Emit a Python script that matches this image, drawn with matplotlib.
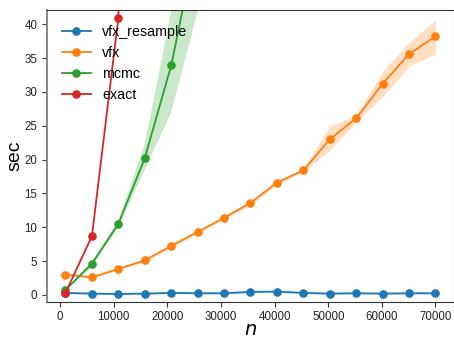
import matplotlib
matplotlib.use("Agg")
import matplotlib.pyplot as plt
import numpy as np

plt.rcParams['font.family'] = ['Liberation Sans', 'DejaVu Sans']

# sample sizes (15 points from 1000 to 70000)
n_vals = [1000, 5929, 10857, 15786, 20714, 25643, 30571, 35500,
          40429, 45357, 50286, 55214, 60143, 65071, 70000]

# mean run time (sec) and band bounds
vfx_resample = [0.3, 0.2, 0.15, 0.2, 0.3, 0.25, 0.25, 0.45, 0.5, 0.3, 0.2, 0.25, 0.2, 0.25, 0.25]
vfx_resample_lo = [0.2, 0.1, 0.05, 0.1, 0.2, 0.15, 0.15, 0.35, 0.4, 0.2, 0.1, 0.15, 0.1, 0.15, 0.15]
vfx_resample_hi = [0.4, 0.3, 0.25, 0.3, 0.4, 0.35, 0.35, 0.55, 0.6, 0.4, 0.3, 0.35, 0.3, 0.35, 0.35]

vfx = [3.0, 2.6, 3.85, 5.1, 7.25, 9.3, 11.4, 13.6, 16.6, 18.4, 23.0, 26.1, 31.2, 35.6, 38.2]
vfx_lo = [2.9, 2.5, 3.7, 4.9, 7.0, 9.1, 11.2, 13.3, 16.3, 18.2, 21.4, 25.6, 29.3, 33.8, 35.6]
vfx_hi = [3.1, 2.7, 4.0, 5.3, 7.5, 9.5, 11.6, 13.9, 16.9, 18.6, 24.9, 26.6, 33.0, 37.3, 40.6]

mcmc_n = n_vals[:6]
mcmc = [0.75, 4.6, 10.5, 20.2, 33.9, 53.0]
mcmc_lo = [0.65, 4.2, 10.0, 18.5, 27.0, 41.8]
mcmc_hi = [0.85, 5.0, 11.0, 22.3, 42.0, 70.0]

exact_n = n_vals[:4]
exact = [0.3, 8.7, 40.9, 180.0]
exact_lo = [0.25, 8.5, 40.5, 175.0]
exact_hi = [0.35, 8.9, 41.3, 185.0]

series = [
    ('vfx_resample', n_vals, vfx_resample, vfx_resample_lo, vfx_resample_hi),
    ('vfx', n_vals, vfx, vfx_lo, vfx_hi),
    ('mcmc', mcmc_n, mcmc, mcmc_lo, mcmc_hi),
    ('exact', exact_n, exact, exact_lo, exact_hi),
]
colors = ['tab:blue', 'tab:orange', 'tab:green', 'tab:red']

fig, ax = plt.subplots(figsize=(4.54, 3.39), dpi=100)
fig.subplots_adjust(left=0.1035, right=1.0, top=0.9705, bottom=0.110)

for (label, x, y, lo, hi), c in zip(series, colors):
    ax.plot(x, y, '-o', color=c, label=label, lw=1.3, ms=5.2)
    ax.fill_between(x, lo, hi, color=c, alpha=0.25, lw=0)

ax.set_xlim(-2450, 73450)
ax.set_ylim(-1.0, 42.1)
ax.set_xticks(np.arange(0, 70001, 10000))
ax.set_yticks(np.arange(0, 41, 5))
ax.tick_params(labelsize=8.3, length=3.5, color='#333333', labelcolor='#222222')
for s in ax.spines.values():
    s.set_color('#333333')
ax.spines['left'].set_color('#888888')
ax.spines['left'].set_linewidth(1.4)

ax.set_xlabel('$n$', fontsize=14, labelpad=-1)
ax.set_ylabel('sec', fontsize=14, labelpad=0.5)
ax.legend(loc='upper left', frameon=False, fontsize=10.3, borderaxespad=0.65,
          handlelength=2.0, labelspacing=0.5)

fig.savefig('out.png', dpi=100)
